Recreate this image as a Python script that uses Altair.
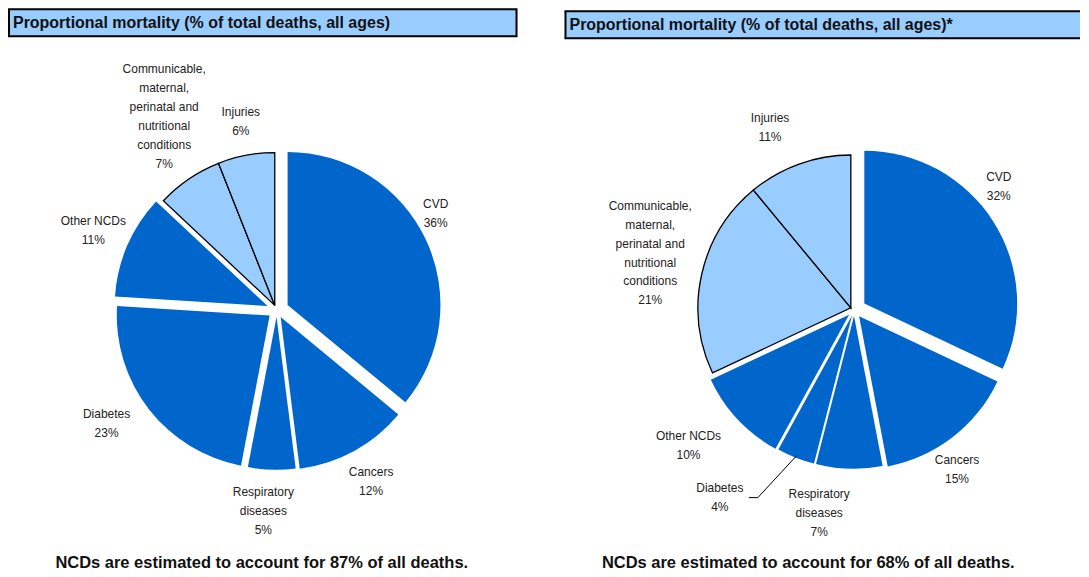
import math
import numpy as np
import pandas as pd
import altair as alt

# ---------------- data ----------------
categories = ["CVD", "Cancers", "Respiratory diseases", "Diabetes", "Other NCDs",
              "Communicable, maternal, perinatal and nutritional conditions", "Injuries"]
label_lines = ["CVD", "Cancers", "Respiratory\ndiseases", "Diabetes", "Other NCDs",
               "Communicable,\nmaternal,\nperinatal and\nnutritional\nconditions", "Injuries"]
groups = ["NCD", "NCD", "NCD", "NCD", "NCD", "Other", "Other"]
left_values = [36, 12, 5, 23, 11, 7, 6]
right_values = [32, 15, 7, 4, 10, 21, 11]
left_title = "Proportional mortality (% of total deaths, all ages)"
right_title = "Proportional mortality (% of total deaths, all ages)*"
left_note = "NCDs are estimated to account for 87% of all deaths."
right_note = "NCDs are estimated to account for 68% of all deaths."

# ---------------- style ----------------
DARK = "#0066CC"
LIGHT = "#99CCFF"
FONT = "Liberation Sans, Arial, sans-serif"
H = 561
R = 153
LINE_H = 19
left_explode = [12, 8, 7, 9, 10, 5, 5]
right_explode = [12, 8, 6, 6, 7, 4, 4]
left_label_dist = [186, 196, 202, 205, 200, 224, 192]
left_label_turn = [-6, 0, 2, 4, 0, 4, 0]
right_label_dist = [190, 190, 206, 231, 214, 212, 201]
right_label_turn = [-8, 5, 8, 14, 4, 3, -5]


def pie_frame(values, explode, dist, turn):
    v = np.array(values, dtype=float)
    total = v.sum()
    end = np.cumsum(v)
    start = end - v
    mid = (start + end) / 2 / total * 2 * np.pi
    is_grp = np.array([g == "Other" for g in groups])
    gmid = (start[is_grp].min() + end[is_grp].max()) / 2 / total * 2 * np.pi
    direction = np.where(is_grp, gmid, mid)
    e = np.array(explode, dtype=float)
    la = mid + np.radians(turn)
    d = np.array(dist, dtype=float)
    labels = [f"{l}\n{int(x)}%" for l, x in zip(label_lines, values)]
    nlines = np.array([s.count("\n") + 1 for s in labels], dtype=float)
    ly = d * np.cos(la)
    return pd.DataFrame({
        "category": categories,
        "group": groups,
        "value": v,
        "t0": start,
        "t1": end,
        "mid": mid,
        "dx": e * np.sin(direction),
        "dy": e * np.cos(direction),
        "lx": d * np.sin(la),
        "ly": ly,
        # first text line sits at the anchor, so lift the anchor to centre the block
        "ly_anchor": ly + (nlines - 1) / 2 * LINE_H,
        "label": labels,
    }), total


def make_panel(values, explode, dist, turn, width, cx, cy, title, note,
               box, text_xy, note_xy, closed_box=True, leader=None):
    df, total = pie_frame(values, explode, dist, turn)
    xs = alt.Scale(domain=[-cx, width - cx], nice=False, zero=False)
    ys = alt.Scale(domain=[-(H - cy), cy], nice=False, zero=False)
    th = alt.Theta("t0:Q", scale=alt.Scale(domain=[0, total], range=[0, 2 * math.pi]))
    base = alt.Chart(df)
    pos = dict(x=alt.X("dx:Q", scale=xs, axis=None), y=alt.Y("dy:Q", scale=ys, axis=None))

    dark = base.transform_filter(alt.datum.group == "NCD").mark_arc(
        radius=R, fill=DARK, strokeWidth=0
    ).encode(theta=th, theta2="t1:Q", **pos)
    light = base.transform_filter(alt.datum.group == "Other").mark_arc(
        radius=R, fill=LIGHT, stroke="black", strokeWidth=1.3
    ).encode(theta=th, theta2="t1:Q", **pos)
    labels = base.mark_text(
        font=FONT, fontSize=12, lineBreak="\n", lineHeight=LINE_H, color="#222222",
        align="center", baseline="middle"
    ).encode(
        x=alt.X("lx:Q", scale=xs, axis=None),
        y=alt.Y("ly_anchor:Q", scale=ys, axis=None),
        text="label:N",
    )

    x0, y0, x1, y1 = box
    tdf = pd.DataFrame({"t": [title]})
    if closed_box:
        rect = alt.Chart(tdf).mark_rect(fill=LIGHT, stroke="black", strokeWidth=2).encode(
            x=alt.value(x0), x2=alt.value(x1), y=alt.value(y0), y2=alt.value(y1))
        boxlayers = [rect]
    else:
        rect = alt.Chart(tdf).mark_rect(fill=LIGHT).encode(
            x=alt.value(x0), x2=alt.value(x1), y=alt.value(y0), y2=alt.value(y1))
        top = alt.Chart(tdf).mark_rule(color="black", strokeWidth=2).encode(
            x=alt.value(x0 - 1), x2=alt.value(x1), y=alt.value(y0))
        bot = alt.Chart(tdf).mark_rule(color="black", strokeWidth=2).encode(
            x=alt.value(x0 - 1), x2=alt.value(x1), y=alt.value(y1))
        lft = alt.Chart(tdf).mark_rule(color="black", strokeWidth=2).encode(
            x=alt.value(x0), y=alt.value(y0), y2=alt.value(y1))
        boxlayers = [rect, top, bot, lft]
    ttext = alt.Chart(tdf).mark_text(
        font=FONT, fontSize=16, fontWeight="bold", color="#111111",
        align="left", baseline="middle"
    ).encode(x=alt.value(text_xy[0]), y=alt.value(text_xy[1]), text="t:N")
    ndf = pd.DataFrame({"n": [note]})
    ntext = alt.Chart(ndf).mark_text(
        font=FONT, fontSize=16.5, fontWeight="bold", color="#111111",
        align="center", baseline="middle"
    ).encode(x=alt.value(note_xy[0]), y=alt.value(note_xy[1]), text="n:N")

    layers = [dark, light, labels] + boxlayers + [ttext, ntext]

    if leader is not None:
        row = df.iloc[leader]
        edge = R - 2
        pts = pd.DataFrame({
            "o": [0, 1, 2],
            "px": [row.lx + 29, row.lx + 38, row.dx + edge * math.sin(row.mid)],
            "py": [row.ly, row.ly, row.dy + edge * math.cos(row.mid)],
        })
        lead = alt.Chart(pts).mark_line(color="black", strokeWidth=1).encode(
            x=alt.X("px:Q", scale=xs, axis=None),
            y=alt.Y("py:Q", scale=ys, axis=None),
            order="o:O",
        )
        layers.append(lead)

    return alt.layer(*layers).properties(width=width, height=H)


left = make_panel(left_values, left_explode, left_label_dist, left_label_turn,
                  width=550, cx=269, cy=302, title=left_title, note=left_note,
                  box=(1, 1, 509, 28), text_xy=(5, 14.5), note_xy=(254, 555))
right = make_panel(right_values, right_explode, right_label_dist, right_label_turn,
                   width=523, cx=297, cy=302, title=right_title, note=right_note,
                   box=(8, 3, 523, 30), text_xy=(12, 16.5), note_xy=(251, 555),
                   closed_box=False, leader=3)

chart = alt.hconcat(left, right, spacing=0).properties(
    padding=0, background="white"
).configure_view(stroke=None)

chart.save("out.html", embed_options={"renderer": "svg", "actions": False})
